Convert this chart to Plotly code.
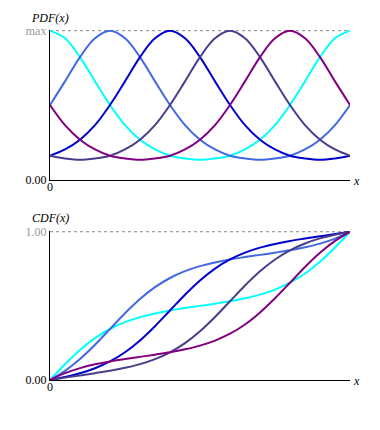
import plotly.graph_objects as go

# sample positions along x (0..1)
x_vals = [0.00, 0.05, 0.10, 0.15, 0.20, 0.25, 0.30, 0.35, 0.40, 0.45, 0.50,
          0.55, 0.60, 0.65, 0.70, 0.75, 0.80, 0.85, 0.90, 0.95, 1.00]

series_names = ["mu=0.0", "mu=0.2", "mu=0.4", "mu=0.6", "mu=0.8"]
series_colors = ["#00ffff", "#4169e1", "#0000cd", "#483d8b", "#800080"]

# PDF values
pdf_cyan = [2.15, 2.04, 1.77, 1.42, 1.08, 0.79, 0.58, 0.44, 0.35, 0.31, 0.29,
            0.31, 0.35, 0.44, 0.58, 0.79, 1.08, 1.42, 1.77, 2.04, 2.15]
pdf_royal = [1.08, 1.42, 1.77, 2.04, 2.15, 2.04, 1.77, 1.42, 1.08, 0.79, 0.58,
             0.44, 0.35, 0.31, 0.29, 0.31, 0.35, 0.44, 0.58, 0.79, 1.08]
pdf_blue = [0.35, 0.44, 0.58, 0.79, 1.08, 1.42, 1.77, 2.04, 2.15, 2.04, 1.77,
            1.42, 1.08, 0.79, 0.58, 0.44, 0.35, 0.31, 0.29, 0.31, 0.35]
pdf_slate = [0.35, 0.31, 0.29, 0.31, 0.35, 0.44, 0.58, 0.79, 1.08, 1.42, 1.77,
             2.04, 2.15, 2.04, 1.77, 1.42, 1.08, 0.79, 0.58, 0.44, 0.35]
pdf_purple = [1.08, 0.79, 0.58, 0.44, 0.35, 0.31, 0.29, 0.31, 0.35, 0.44, 0.58,
              0.79, 1.08, 1.42, 1.77, 2.04, 2.15, 2.04, 1.77, 1.42, 1.08]

# CDF values
cdf_cyan = [0.000, 0.106, 0.202, 0.282, 0.344, 0.390, 0.424, 0.449, 0.469, 0.485, 0.500,
            0.515, 0.531, 0.551, 0.576, 0.610, 0.656, 0.718, 0.798, 0.894, 1.000]
cdf_royal = [0.000, 0.062, 0.142, 0.238, 0.344, 0.450, 0.546, 0.626, 0.688, 0.734, 0.768,
             0.793, 0.813, 0.829, 0.844, 0.859, 0.875, 0.895, 0.920, 0.954, 1.000]
cdf_blue = [0.000, 0.020, 0.045, 0.079, 0.125, 0.187, 0.267, 0.363, 0.469, 0.575, 0.671,
            0.751, 0.813, 0.859, 0.893, 0.918, 0.938, 0.954, 0.969, 0.984, 1.000]
cdf_slate = [0.000, 0.016, 0.031, 0.046, 0.062, 0.082, 0.107, 0.141, 0.187, 0.249, 0.329,
             0.425, 0.531, 0.637, 0.733, 0.813, 0.875, 0.921, 0.955, 0.980, 1.000]
cdf_purple = [0.000, 0.046, 0.080, 0.106, 0.125, 0.141, 0.156, 0.171, 0.187, 0.207, 0.232,
              0.266, 0.312, 0.374, 0.455, 0.551, 0.656, 0.762, 0.858, 0.938, 1.000]

pdf_series = [pdf_cyan, pdf_royal, pdf_blue, pdf_slate, pdf_purple]
cdf_series = [cdf_cyan, cdf_royal, cdf_blue, cdf_slate, cdf_purple]

pdf_max = 2.15
W, H = 380, 430
OFF = 8  # page body margin offset
FONT = "Liberation Serif"

fig = go.Figure()
for name, col, ys in zip(series_names, series_colors, pdf_series):
    fig.add_trace(go.Scatter(x=x_vals, y=ys, mode="lines", name=name,
                             line=dict(color=col, width=2, shape="spline"),
                             xaxis="x", yaxis="y", showlegend=False))
for name, col, ys in zip(series_names, series_colors, cdf_series):
    fig.add_trace(go.Scatter(x=x_vals, y=ys, mode="lines", name=name,
                             line=dict(color=col, width=2, shape="spline"),
                             xaxis="x2", yaxis="y2", showlegend=False))

def px_x(p):
    return (p - OFF) / W

def px_y(p):
    return 1 - (p - OFF) / H

axis_common = dict(showgrid=False, zeroline=False, showline=True, linecolor="black",
                   linewidth=1.3, ticks="", automargin=False,
                   tickfont=dict(family=FONT, size=12, color="black"),
                   fixedrange=True)

fig.update_layout(
    width=W, height=H,
    margin=dict(l=0, r=0, t=0, b=0, autoexpand=False),
    paper_bgcolor="white", plot_bgcolor="white",
    font=dict(family=FONT, size=12, color="black"),
    xaxis=dict(domain=[px_x(50), px_x(350)], range=[0, 1], anchor="y",
               tickvals=[0], ticktext=["0"], ticklabelstandoff=-5, **axis_common),
    yaxis=dict(domain=[px_y(180), px_y(30)], range=[0, 2.16], anchor="x",
               tickvals=[0, pdf_max],
               ticktext=["0.00", '<span style="color:#999999">max</span>'], **axis_common),
    xaxis2=dict(domain=[px_x(50), px_x(350)], range=[0, 1], anchor="y2",
                tickvals=[0], ticktext=["0"], ticklabelstandoff=-5, **axis_common),
    yaxis2=dict(domain=[px_y(380), px_y(231)], range=[0, 1.005], anchor="x2",
                tickvals=[0, 1],
                ticktext=["0.00", '<span style="color:#999999">1.00</span>'], **axis_common),
    shapes=[
        dict(type="line", xref="x", yref="y", x0=0, x1=1, y0=pdf_max, y1=pdf_max,
             line=dict(color="#888888", width=1, dash="dot"), layer="below"),
        dict(type="line", xref="x2", yref="y2", x0=0, x1=1, y0=1, y1=1,
             line=dict(color="#888888", width=1, dash="dot"), layer="below"),
    ],
    annotations=[
        dict(text="<i>PDF(x)</i>", xref="paper", yref="paper", x=px_x(50), y=px_y(18),
             xanchor="center", yanchor="middle", showarrow=False,
             font=dict(family=FONT, size=12, color="black")),
        dict(text="<i>CDF(x)</i>", xref="paper", yref="paper", x=px_x(50), y=px_y(218),
             xanchor="center", yanchor="middle", showarrow=False,
             font=dict(family=FONT, size=12, color="black")),
        dict(text="<i>x</i>", xref="paper", yref="paper", x=px_x(356), y=px_y(181),
             xanchor="center", yanchor="middle", showarrow=False,
             font=dict(family=FONT, size=12, color="black")),
        dict(text="<i>x</i>", xref="paper", yref="paper", x=px_x(356), y=px_y(381),
             xanchor="center", yanchor="middle", showarrow=False,
             font=dict(family=FONT, size=12, color="black")),
    ],
)

fig.write_html("out.html", config=dict(displayModeBar=False))
